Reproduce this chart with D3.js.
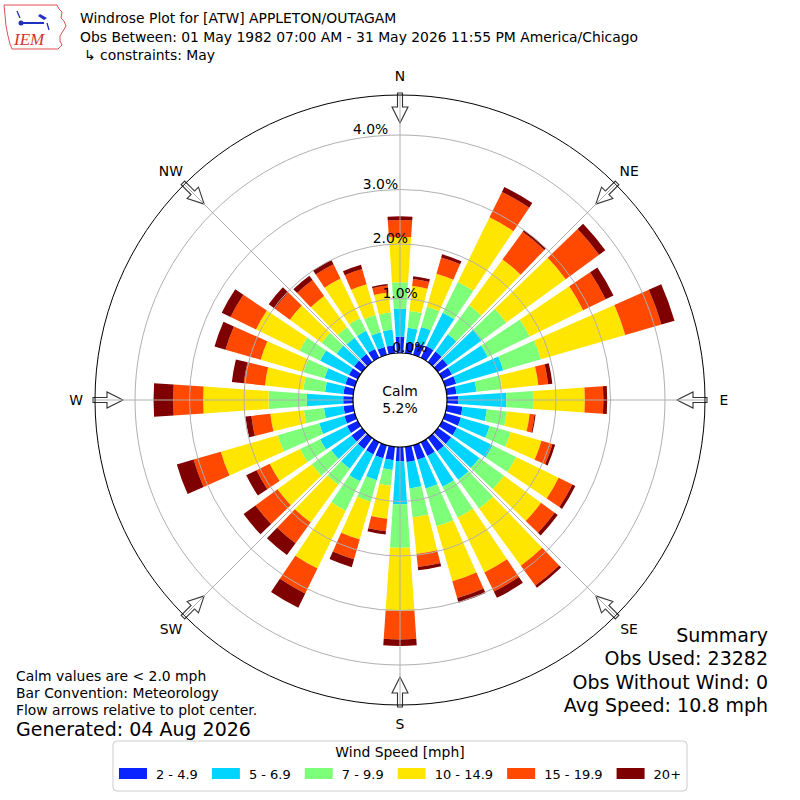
<!DOCTYPE html>
<html>
<head>
<meta charset="utf-8">
<script src="https://cdn.jsdelivr.net/npm/d3@7"></script>
<style>
  body { margin: 0; background: #fff; }
  svg { font-family: "DejaVu Sans", sans-serif; }
</style>
</head>
<body>
<svg id="chart" width="800" height="800"></svg>
<script>
// direction bins, degrees from north (meteorological)
var directions = d3.range(0, 360, 10);

// percent of obs per speed bin, one value per direction
var speed2to5   = [0.30,0.20,0.22,0.24,0.24,0.22,0.20,0.21,0.18,0.21,0.29,0.30,0.30,0.30,0.30,0.28,0.28,0.28,
                   0.26,0.25,0.25,0.25,0.25,0.24,0.22,0.20,0.18,0.18,0.18,0.18,0.18,0.18,0.18,0.18,0.15,0.15];
var speed5to7   = [0.51,0.27,0.31,0.68,0.39,0.77,0.73,0.90,0.37,0.88,0.45,0.55,0.73,0.64,0.65,0.63,0.55,0.49,
                   0.79,0.18,0.42,0.55,0.45,0.46,0.55,0.48,0.36,0.67,0.34,0.40,0.59,0.40,0.37,0.37,0.28,0.29];
var speed7to10  = [0.49,0.31,0.39,0.63,0.66,0.56,0.86,0.72,0.47,0.49,0.37,0.40,0.48,0.56,0.65,0.63,0.72,0.53,
                   0.80,0.29,0.41,0.60,0.36,0.44,0.41,0.79,0.37,0.70,0.40,0.40,0.42,0.34,0.24,0.26,0.33,0.31];
var speed10to15 = [0.83,0.46,0.63,1.32,1.04,1.35,1.09,1.61,0.67,0.95,0.42,0.59,0.87,0.84,1.30,1.12,1.05,0.68,
                   1.16,0.61,0.72,1.18,0.86,0.78,0.62,1.09,0.62,1.20,0.71,0.82,0.89,0.72,0.71,0.81,0.59,0.37];
var speed15to20 = [0.31,0.13,0.31,0.52,0.63,0.76,0.46,0.69,0.18,0.34,0.09,0.21,0.28,0.31,0.45,0.39,0.32,0.24,
                   0.52,0.23,0.38,0.51,0.47,0.50,0.27,0.52,0.35,0.55,0.39,0.67,0.52,0.34,0.36,0.29,0.29,0.13];
var speed20up   = [0.07,0.05,0.06,0.10,0.04,0.14,0.16,0.25,0.08,0.07,0.02,0.05,0.06,0.07,0.05,0.13,0.09,0.06,
                   0.12,0.06,0.15,0.29,0.27,0.27,0.21,0.32,0.11,0.36,0.22,0.21,0.18,0.14,0.10,0.09,0.08,0.03];

var speedLabels = ["2 - 4.9", "5 - 6.9", "7 - 9.9", "10 - 14.9", "15 - 19.9", "20+"];
var speedColors = ["#0a24ff", "#00d4ff", "#7dff7a", "#ffe600", "#ff4800", "#7f0000"];

var radialTicks = [0, 1, 2, 3, 4];
var compassAngles = [0, 45, 90, 135, 180, 225, 270, 315];
var compassNames = ["N", "NE", "E", "SE", "S", "SW", "W", "NW"];

var calmPct = "5.2%";
var titleLines = [
    "Windrose Plot for [ATW] APPLETON/OUTAGAM",
    "Obs Between: 01 May 1982 07:00 AM - 31 May 2026 11:55 PM America/Chicago",
    "\u21b3 constraints: May"
];
var noteLines = ["Calm values are < 2.0 mph", "Bar Convention: Meteorology", "Flow arrows relative to plot center."];
var summaryLines = ["Summary", "Obs Used: 23282", "Obs Without Wind: 0", "Avg Speed: 10.8 mph"];

var svg = d3.select("#chart");
var cx = 400, cy = 400;
var outerR = 305;
var fs = "13.9px";

var r = d3.scaleLinear().domain([0, 4]).range([47, 265]);
var ang = d3.scaleLinear().domain([0, 360]).range([0, 2 * Math.PI]);

// table for d3.stack
var keys = ["s2", "s5", "s7", "s10", "s15", "s20"];
var rows = directions.map(function (d, i) {
    return {
        dir: d,
        s2: speed2to5[i], s5: speed5to7[i], s7: speed7to10[i],
        s10: speed10to15[i], s15: speed15to20[i], s20: speed20up[i]
    };
});
var layers = d3.stack().keys(keys)(rows);

var arc = d3.arc()
    .innerRadius(function (d) { return r(d[0]); })
    .outerRadius(function (d) { return r(d[1]); })
    .startAngle(function (d) { return ang(d.data.dir - 3.9); })
    .endAngle(function (d) { return ang(d.data.dir + 3.9); });

var plot = svg.append("g").attr("transform", "translate(" + cx + "," + cy + ")");

// bars
plot.append("g").selectAll("g")
    .data(layers)
    .join("g")
    .attr("fill", function (d, i) { return speedColors[i]; })
    .selectAll("path")
    .data(function (d) { return d; })
    .join("path")
    .attr("d", arc);

// flow arrows at the rim
plot.append("g").selectAll("path")
    .data(compassAngles)
    .join("path")
    .attr("transform", function (d) { return "rotate(" + d + ")"; })
    .attr("d", "M-2.5,-307L2.5,-307L2.5,-293L8,-293L0,-277L-8,-293L-2.5,-293Z")
    .attr("fill", "#fff")
    .attr("stroke", "#333")
    .attr("stroke-width", 1.1);

// grid
plot.append("g").selectAll("circle")
    .data(radialTicks.slice(1))
    .join("circle")
    .attr("r", function (d) { return r(d); })
    .attr("fill", "none")
    .attr("stroke", "#b0b0b0")
    .attr("stroke-width", 1);

plot.append("g").selectAll("line")
    .data(compassAngles)
    .join("line")
    .attr("x1", function (d) { return r(0) * Math.sin(ang(d)); })
    .attr("y1", function (d) { return -r(0) * Math.cos(ang(d)); })
    .attr("x2", function (d) { return outerR * Math.sin(ang(d)); })
    .attr("y2", function (d) { return -outerR * Math.cos(ang(d)); })
    .attr("stroke", "#b0b0b0")
    .attr("stroke-width", 1);

plot.append("circle")
    .attr("r", outerR)
    .attr("fill", "none")
    .attr("stroke", "#000")
    .attr("stroke-width", 1);

// calm circle
plot.append("circle")
    .attr("r", r(0))
    .attr("fill", "#fff")
    .attr("stroke", "#000")
    .attr("stroke-width", 1.2);

plot.append("text").attr("y", -9).attr("text-anchor", "middle")
    .attr("dominant-baseline", "central").style("font-size", fs).text("Calm");
plot.append("text").attr("y", 8).attr("text-anchor", "middle")
    .attr("dominant-baseline", "central").style("font-size", fs).text(calmPct);

// radial tick labels
plot.append("g").selectAll("text")
    .data(radialTicks)
    .join("text")
    .attr("x", function (d) { return -0.18 * (r(d) + 6 - 108); })
    .attr("y", function (d) { return -(r(d) + 6); })
    .attr("text-anchor", "middle")
    .attr("dominant-baseline", "central")
    .style("font-size", fs)
    .text(function (d) { return d3.format(".1f")(d) + "%"; });

// compass labels
plot.append("g").selectAll("text")
    .data(compassAngles)
    .join("text")
    .attr("x", function (d) { return 324 * Math.sin(ang(d)); })
    .attr("y", function (d) { return -324 * Math.cos(ang(d)); })
    .attr("text-anchor", "middle")
    .attr("dominant-baseline", "central")
    .style("font-size", fs)
    .text(function (d, i) { return compassNames[i]; });

// header
svg.append("g").selectAll("text")
    .data(titleLines)
    .join("text")
    .attr("x", function (d, i) { return i == 2 ? 84 : 80; })
    .attr("y", function (d, i) { return 23 + i * 18.5; })
    .style("font-size", fs)
    .text(function (d) { return d; });

// IEM logo (rough)
var logo = svg.append("g");
logo.append("path")
    .attr("d", "M4,5L57,5L59,9L62,12L61,18L64,21L66,26L63,31L60,36L60,41L62,45L58,49L12,49L10,44L8,36L6,26L5,15Z")
    .attr("fill", "none").attr("stroke", "#e05050").attr("stroke-width", 1);
logo.append("line").attr("x1", 21).attr("y1", 23).attr("x2", 44).attr("y2", 23)
    .attr("stroke", "#2030c0").attr("stroke-width", 2);
logo.append("circle").attr("cx", 21).attr("cy", 23).attr("r", 2.5).attr("fill", "#2030c0");
logo.append("path").attr("d", "M40,14L47,18L44,20L38,16Z").attr("fill", "#2030c0");
logo.append("path").attr("d", "M17,11L20,18M47,23L49,30").attr("stroke", "#2030c0").attr("stroke-width", 1.3);
logo.append("text").attr("x", 14).attr("y", 45)
    .style("font-family", "'Liberation Serif', serif").style("font-style", "italic")
    .style("font-size", "17px").attr("fill", "#d83030").text("IEM");

// notes bottom left
svg.append("g").selectAll("text")
    .data(noteLines)
    .join("text")
    .attr("x", 16)
    .attr("y", function (d, i) { return 681 + i * 17; })
    .style("font-size", fs)
    .text(function (d) { return d; });

svg.append("text").attr("x", 16).attr("y", 736)
    .style("font-size", "19px").text("Generated: 04 Aug 2026");

// summary bottom right
svg.append("g").selectAll("text")
    .data(summaryLines)
    .join("text")
    .attr("x", 768)
    .attr("y", function (d, i) { return 642 + i * 23.3; })
    .attr("text-anchor", "end")
    .style("font-size", "19px")
    .text(function (d) { return d; });

// legend
var legend = svg.append("g");
var legBox = legend.append("rect")
    .attr("y", 741).attr("height", 50).attr("rx", 4)
    .attr("fill", "#fff").attr("stroke", "#cccccc").attr("stroke-width", 1);
legend.append("text").attr("x", 400).attr("y", 757).attr("text-anchor", "middle")
    .style("font-size", fs).text("Wind Speed [mph]");

var items = legend.append("g");
var xPos = 0;
speedLabels.forEach(function (lab, i) {
    items.append("rect").attr("x", xPos).attr("y", 768).attr("width", 28).attr("height", 11)
        .attr("fill", speedColors[i]);
    var t = items.append("text").attr("x", xPos + 37).attr("y", 779)
        .style("font-size", "13px").text(lab);
    xPos += 37 + t.node().getComputedTextLength() + 14;
});
var itemsW = xPos - 14;
var startX = 400 - itemsW / 2;
items.attr("transform", "translate(" + startX + ",0)");
legBox.attr("x", startX - 6).attr("width", itemsW + 12);
</script>
</body>
</html>
